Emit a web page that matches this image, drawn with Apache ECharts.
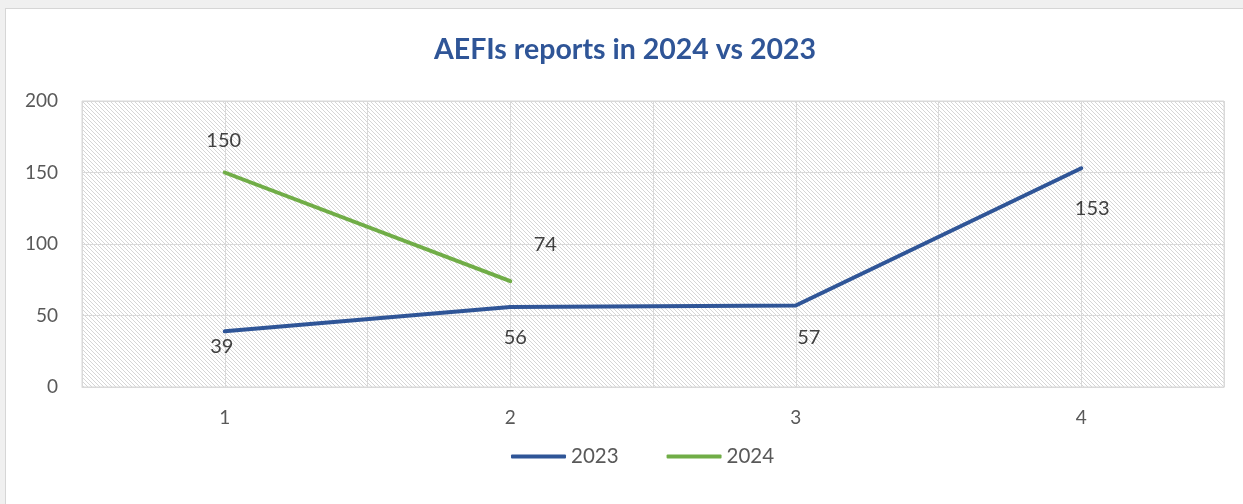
<!DOCTYPE html>
<html>
<head>
<meta charset="utf-8">
<script src="https://cdn.jsdelivr.net/npm/echarts@6/dist/echarts.min.js"></script>
<style>
  html, body { margin: 0; padding: 0; background: #f0f0f0; }
  #main {
    position: absolute; left: 5px; top: 8px;
    width: 1238px; height: 496px;
    border-left: 1px solid #d6d6d6; border-top: 1px solid #d6d6d6;
    background: #fff;
  }
</style>
</head>
<body>
<div id="main"></div>
<script>
const title = 'AEFIs reports in 2024 vs 2023';
const categories = [1, 2, 3, 4];
const s2023 = [39, 56, 57, 153];
const s2024 = [150, 74, null, null];
const yTicks = [0, 50, 100, 150, 200];

// label placement, relative to the point (px)
const off2023 = [[-3, 15], [5, 31], [13, 32], [11, 40]];
const off2024 = [[-1, -32], [35, -37]];

// diagonal hatch for the plot area
const tile = document.createElement('canvas');
tile.width = 4; tile.height = 4;
const tc = tile.getContext('2d');
tc.fillStyle = '#fff';
tc.fillRect(0, 0, 4, 4);
tc.fillStyle = '#d6d6d6';
for (let i = 0; i < 4; i++) tc.fillRect(i, i, 1, 1);

const font = 'Lato, "Noto Sans", sans-serif';

function points(vals, offs) {
  return categories.map((c, i) => ({
    value: [c, vals[i]],
    label: offs[i] ? { offset: offs[i] } : { show: false },
  })).filter(d => d.value[1] != null);
}

const chart = echarts.init(document.getElementById('main'));
chart.setOption({
  animation: false,
  textStyle: { fontFamily: font },
  title: {
    text: title,
    left: 'center',
    top: 21,
    textStyle: { color: '#2F5597', fontSize: 28.5, fontWeight: 'bold', fontFamily: font },
  },
  grid: {
    left: 76, top: 92, right: 20, bottom: 118,
    show: true,
    borderColor: '#d9d9d9',
    borderWidth: 1,
    backgroundColor: { image: tile, repeat: 'repeat' },
  },
  legend: {
    left: 500,
    top: 432,
    itemWidth: 55,
    itemHeight: 4,
    itemGap: 48,
    icon: 'roundRect',
    textStyle: { color: '#595959', fontSize: 20.5, padding: [0, 0, 0, 0] },
    data: ['2023', '2024'],
  },
  xAxis: {
    type: 'value',
    min: 0.5,
    max: 4.5,
    interval: 0.5,
    axisLine: { lineStyle: { color: '#d9d9d9' } },
    axisTick: { show: false },
    splitLine: { lineStyle: { color: '#d9d9d9' } },
    axisLabel: {
      color: '#595959', fontSize: 19, margin: 21,
      formatter: v => (categories.indexOf(v) >= 0 ? String(v) : ''),
    },
  },
  yAxis: {
    type: 'value',
    min: yTicks[0],
    max: yTicks[yTicks.length - 1],
    interval: 50,
    axisLine: { show: false },
    axisTick: { show: false },
    splitLine: { lineStyle: { color: '#d9d9d9' } },
    axisLabel: { color: '#595959', fontSize: 19, margin: 24 },
  },
  series: [
    {
      name: '2023',
      type: 'line',
      data: points(s2023, off2023),
      symbol: 'circle',
      symbolSize: 1,
      color: '#2F5597',
      lineStyle: { width: 4, cap: 'round', join: 'round' },
      label: { show: true, position: 'inside', color: '#404040', fontSize: 20 },
    },
    {
      name: '2024',
      type: 'line',
      data: points(s2024, off2024),
      symbol: 'circle',
      symbolSize: 1,
      color: '#70AD47',
      lineStyle: { width: 4, cap: 'round', join: 'round' },
      label: { show: true, position: 'inside', color: '#404040', fontSize: 20 },
    },
  ],
});
</script>
</body>
</html>
